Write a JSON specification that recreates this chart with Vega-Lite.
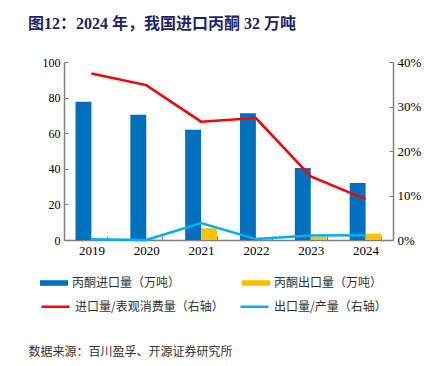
{
  "$schema": "https://vega.github.io/schema/vega-lite/v6.json",
  "width": 329,
  "height": 178,
  "autosize": "none",
  "padding": {"left": 64, "top": 62, "right": 48, "bottom": 126},
  "background": "white",
  "title": {
    "text": "图12：2024 年，我国进口丙酮 32 万吨",
    "anchor": "start",
    "frame": "group",
    "dx": -36,
    "offset": 24,
    "font": "Liberation Serif, Noto Sans CJK SC",
    "fontSize": 16,
    "fontWeight": "bold",
    "color": "#1f1f6e"
  },
  "datasets": {
    "bars": [
      {"year": "2019", "series": "丙酮进口量（万吨）", "value": 77.6},
      {"year": "2019", "series": "丙酮出口量（万吨）", "value": 0.1},
      {"year": "2020", "series": "丙酮进口量（万吨）", "value": 70.4},
      {"year": "2020", "series": "丙酮出口量（万吨）", "value": 0.3},
      {"year": "2021", "series": "丙酮进口量（万吨）", "value": 62.0},
      {"year": "2021", "series": "丙酮出口量（万吨）", "value": 6.6},
      {"year": "2022", "series": "丙酮进口量（万吨）", "value": 71.2},
      {"year": "2022", "series": "丙酮出口量（万吨）", "value": 0.5},
      {"year": "2023", "series": "丙酮进口量（万吨）", "value": 40.5},
      {"year": "2023", "series": "丙酮出口量（万吨）", "value": 1.8},
      {"year": "2024", "series": "丙酮进口量（万吨）", "value": 32.0},
      {"year": "2024", "series": "丙酮出口量（万吨）", "value": 3.6}
    ],
    "lines": [
      {"year": "2019", "series": "进口量/表观消费量（右轴）", "value": 0.374},
      {"year": "2020", "series": "进口量/表观消费量（右轴）", "value": 0.348},
      {"year": "2021", "series": "进口量/表观消费量（右轴）", "value": 0.266},
      {"year": "2022", "series": "进口量/表观消费量（右轴）", "value": 0.274},
      {"year": "2023", "series": "进口量/表观消费量（右轴）", "value": 0.143},
      {"year": "2024", "series": "进口量/表观消费量（右轴）", "value": 0.092},
      {"year": "2019", "series": "出口量/产量（右轴）", "value": 0.0015},
      {"year": "2020", "series": "出口量/产量（右轴）", "value": 0.0},
      {"year": "2021", "series": "出口量/产量（右轴）", "value": 0.038},
      {"year": "2022", "series": "出口量/产量（右轴）", "value": 0.002},
      {"year": "2023", "series": "出口量/产量（右轴）", "value": 0.010},
      {"year": "2024", "series": "出口量/产量（右轴）", "value": 0.0105}
    ]
  },
  "layer": [
    {
      "data": {"name": "bars"},
      "mark": {"type": "bar"},
      "encoding": {
        "x": {
          "field": "year",
          "type": "ordinal",
          "scale": {"paddingInner": 0.42, "paddingOuter": 0.21},
          "axis": {
            "title": "数据来源：百川盈孚、开源证券研究所",
            "titleX": -36,
            "titleY": 111,
            "titleAlign": "left",
            "titleAnchor": "start",
            "titleBaseline": "middle",
            "titleFont": "Noto Sans CJK SC",
            "titleFontSize": 12,
            "titleFontWeight": "normal",
            "titleColor": "#333333",
            "labelAngle": 0,
            "labelFont": "Liberation Serif",
            "labelFontSize": 13,
            "labelColor": "#000000",
            "labelPadding": 8,
            "tickBand": "extent",
            "tickSize": -4,
            "tickColor": "#808080",
            "domainColor": "#808080",
            "grid": false
          }
        },
        "xOffset": {
          "field": "series",
          "type": "nominal",
          "sort": ["丙酮进口量（万吨）", "丙酮出口量（万吨）"]
        },
        "y": {
          "field": "value",
          "type": "quantitative",
          "scale": {"domain": [0, 100]},
          "axis": {
            "title": null,
            "values": [0, 20, 40, 60, 80, 100],
            "labelFont": "Liberation Serif",
            "labelFontSize": 12,
            "labelColor": "#000000",
            "labelPadding": 8,
            "tickSize": -4,
            "tickColor": "#808080",
            "domainColor": "#808080",
            "grid": false
          }
        },
        "fill": {
          "field": "series",
          "type": "nominal",
          "scale": {
            "domain": ["丙酮进口量（万吨）", "丙酮出口量（万吨）"],
            "range": ["#0070c0", "#ffc000"]
          },
          "legend": {
            "orient": "none",
            "legendX": -24,
            "legendY": 207,
            "title": null,
            "direction": "horizontal",
            "columns": 2,
            "columnPadding": 61,
            "symbolType": "M-1,-0.2H1V0.2H-1Z",
            "symbolSize": 784,
            "symbolStrokeWidth": 0,
            "labelFont": "Noto Sans CJK SC",
            "labelFontSize": 12,
            "labelColor": "#333333",
            "labelOffset": 4
          }
        }
      }
    },
    {
      "data": {"name": "lines"},
      "mark": {"type": "line", "strokeWidth": 2.5},
      "encoding": {
        "x": {"field": "year", "type": "ordinal"},
        "y": {
          "field": "value",
          "type": "quantitative",
          "scale": {"domain": [0, 0.4]},
          "axis": {
            "orient": "right",
            "title": null,
            "format": ".0%",
            "values": [0, 0.1, 0.2, 0.3, 0.4],
            "labelFont": "Liberation Serif",
            "labelFontSize": 13,
            "labelColor": "#000000",
            "labelPadding": 8,
            "tickSize": -4,
            "tickColor": "#808080",
            "domainColor": "#808080",
            "grid": false
          }
        },
        "stroke": {
          "field": "series",
          "type": "nominal",
          "scale": {
            "domain": ["进口量/表观消费量（右轴）", "出口量/产量（右轴）"],
            "range": ["#ff0000", "#00b0f0"]
          },
          "legend": {
            "orient": "none",
            "legendX": -24,
            "legendY": 229,
            "title": null,
            "direction": "horizontal",
            "columns": 2,
            "columnPadding": 11,
            "symbolType": "stroke",
            "symbolSize": 784,
            "symbolStrokeWidth": 2.5,
            "labelFont": "Noto Sans CJK SC",
            "labelFontSize": 12,
            "labelColor": "#333333",
            "labelOffset": 4
          }
        }
      }
    }
  ],
  "resolve": {"scale": {"y": "independent"}},
  "config": {"view": {"stroke": null}, "axis": {"domainWidth": 1.5}}
}
